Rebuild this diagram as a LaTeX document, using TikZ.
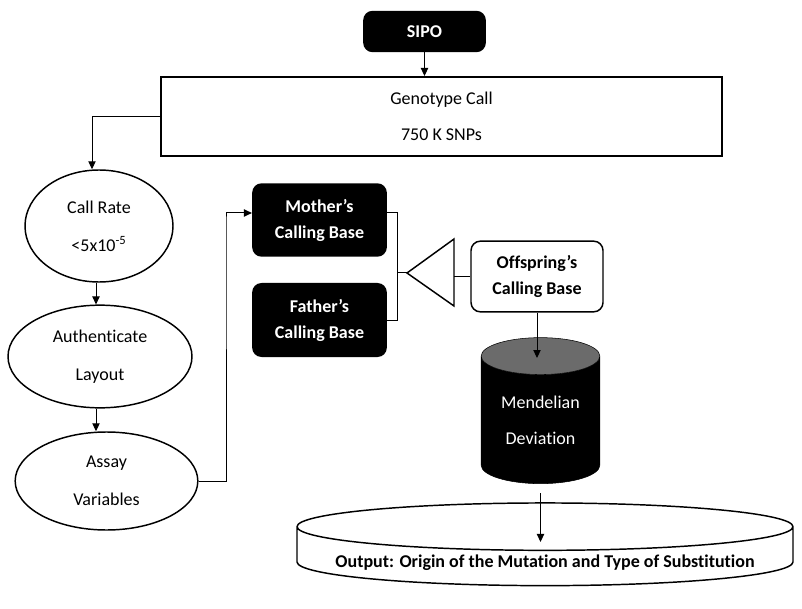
\documentclass[tikz,border=0pt]{standalone}
\usepackage{fontspec}
\setmainfont{Carlito}[Ligatures=NoCommon]
\usetikzlibrary{shapes.geometric,arrows.meta}

\begin{document}
\begin{tikzpicture}[x=0.75pt,y=-0.75pt,
  seta/.style={-{Triangle[width=5.5pt,length=6pt]},line width=0.75pt},
  liga/.style={line width=0.75pt},
  preta/.style={fill=black,text=white,rounded corners=7pt,align=center,
    font=\bfseries\fontsize{13.5}{19.5}\selectfont},
  elipse/.style={ellipse,draw,line width=1.1pt,inner sep=0pt,align=center,
    font=\fontsize{13.5}{28.5}\selectfont},
  cilindro/.style={cylinder,shape border rotate=90,draw,inner sep=0pt,align=center}]
  \useasboundingbox (0,0) rectangle (802,609);
  % caixas
  \node[preta,minimum width=92pt,minimum height=31pt] (sipo) at (424.5,31.5) {SIPO};
  \node[draw,line width=1.5pt,align=center,minimum width=420.75pt,minimum height=59.25pt,
    font=\fontsize{13.5}{27}\selectfont] (geno) at (441.5,116.5) {Genotype Call\\750 K SNPs};
  \node[elipse,minimum width=111pt,minimum height=84pt] (call) at (99,226) {Call Rate\\<5x10\textsuperscript{-5}};
  \node[elipse,minimum width=138pt,minimum height=77pt] (auth) at (100,356.5) {Authenticate\\Layout};
  \node[elipse,minimum width=137pt,minimum height=73.5pt] (assay) at (106.5,481) {Assay\\Variables};
  \node[preta,minimum width=101pt,minimum height=55pt] (mother) at (319.5,220) {Mother’s\\Calling Base};
  \node[preta,minimum width=101pt,minimum height=55.5pt] (father) at (319.5,320) {Father’s\\Calling Base};
  \node[draw,line width=1.1pt,rounded corners=7pt,align=center,minimum width=99pt,minimum height=53pt,
    font=\bfseries\fontsize{13.5}{19.5}\selectfont] (offs) at (537,276.5) {Offspring’s\\Calling Base};
  \node[cilindro,aspect=0.47,minimum height=109.5pt,minimum width=89pt,
    cylinder uses custom fill,cylinder body fill=black,cylinder end fill=black!58,
    text=white,font=\fontsize{13.5}{27}\selectfont] (mend) at (540.5,420) {Mendelian\\Deviation};
  \node[cilindro,aspect=0.113,line width=1.1pt,minimum height=62pt,minimum width=372pt,
    font=\bfseries\fontsize{13.5}{16}\selectfont] (out) at (545,556.5)
    {\smash{\raisebox{-8pt}{Output: Origin of the Mutation and Type of Substitution}}};
  % triangulo
  \coordinate (tip) at (407,273);
  \coordinate (base) at (454,0 |- offs.west);
  \draw[line width=1.1pt] (tip) -- (454,239) -- (454,306) -- cycle;
  % setas
  \coordinate (mendtopo) at ([yshift=46.5pt]mend.center);
  \coordinate (mendpe) at ([yshift=-54.75pt]mend.center);
  \coordinate (outtopo) at ([yshift=10.9pt]out.center);
  \draw[seta] (sipo.south) -- (sipo.south |- geno.north);
  \draw[seta] (geno.west) -| (92,0 |- call.north);
  \draw[seta] (96,0 |- call.south) -- (96,0 |- auth.north);
  \draw[seta] (96,0 |- auth.south) -- (96,0 |- assay.north);
  \draw[seta] (assay.east) -| (226,0 |- mother.west) -- ++(0,-7) -- ([yshift=5.25pt]mother.west);
  \draw[liga] ([yshift=5.25pt]mother.east) -| (397,0 |- father.east) -- (father.east);
  \draw[liga] (397,0 |- tip) -- (tip);
  \draw[liga] (base) -- (offs.west);
  \draw[seta] (offs.south) -- (offs.south |- mendtopo);
  \draw[seta] (mendpe) -- (mendpe |- outtopo);
\end{tikzpicture}
\end{document}
